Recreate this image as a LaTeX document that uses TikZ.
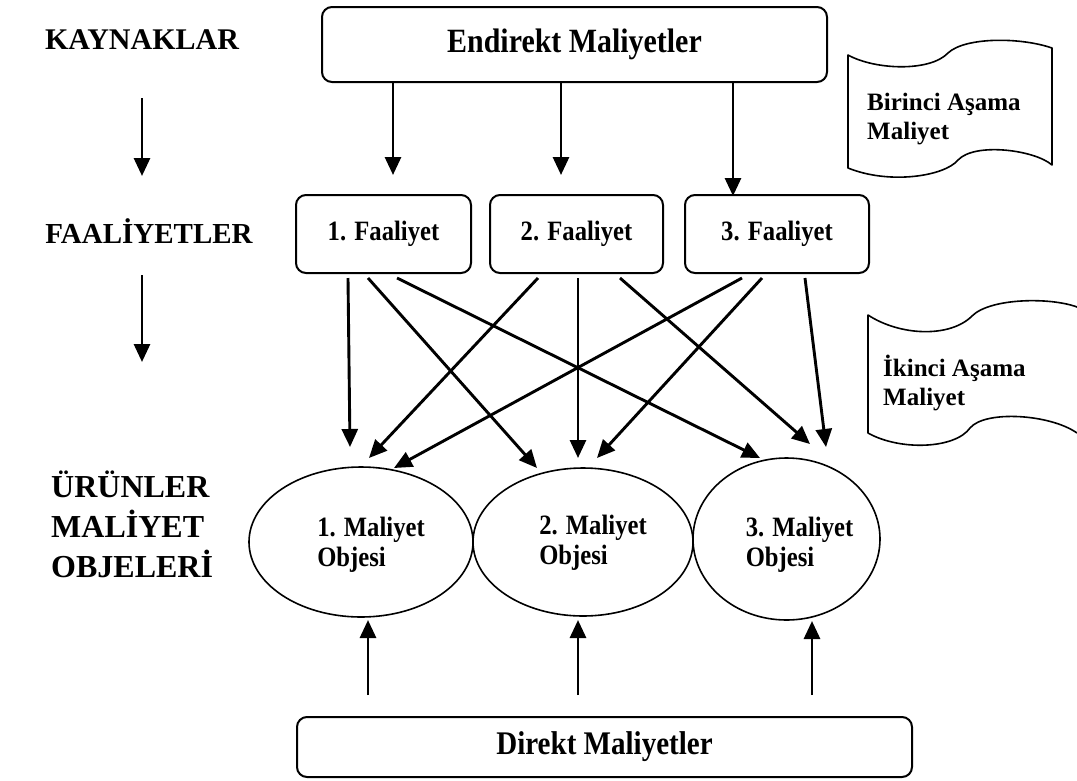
\documentclass[tikz,border=0pt]{standalone}
\usepackage{fontspec}
\setmainfont{Liberation Serif}
\newfontfamily\cond{Liberation Serif}[FakeStretch=0.88]
\usetikzlibrary{shapes.geometric,arrows.meta,calc}
\begin{document}
\begin{tikzpicture}[x=1pt,y=-1pt,
  box/.style={draw, rounded corners=10pt, line width=2pt, inner sep=0pt},
  oval/.style={draw, ellipse, line width=1.6pt, inner sep=0pt},
  arr/.style={line width=2.9pt, -{Triangle[length=18pt,width=16pt]}},
  bigtxt/.style={font=\cond\bfseries\fontsize{34}{40}\selectfont},
  midtxt/.style={font=\cond\bfseries\fontsize{28}{30}\selectfont},
  lefttxt/.style={font=\bfseries\fontsize{30}{40}\selectfont, inner sep=0pt},
  flagtxt/.style={font=\bfseries\fontsize{25}{29}\selectfont, align=left, inner sep=0pt},
  flag/.style={line width=1.6pt, line join=round}
]
\useasboundingbox (0,0) rectangle (1077,780);
\fill[white] (0,0) rectangle (1077,780);

% left labels
\node[lefttxt] (kay) at (142,40) {KAYNAKLAR};
\node[lefttxt, font=\bfseries\fontsize{29}{40}\selectfont] (faa) at (149,231) {FAALİYETLER};
\node[lefttxt, font=\bfseries\fontsize{32}{40}\selectfont, align=left, anchor=west] (urn) at (51,524) {ÜRÜNLER\\MALİYET\\OBJELERİ};
\coordinate (k1) at (142,98);
\coordinate (k2) at (142,176);
\coordinate (k3) at (142,275);
\coordinate (k4) at (142,362);
\draw[arr] (k1) -- (k2);
\draw[arr] (k3) -- (k4);

% top box
\node[box, bigtxt, minimum width=505pt, minimum height=75pt] (top) at (574.5,44.5) {Endirekt Maliyetler};

% activity boxes
\node[box, midtxt, minimum width=175pt, minimum height=78pt] (f1) at (383.5,234) {1. Faaliyet};
\node[box, midtxt, minimum width=173pt, minimum height=78pt] (f2) at (576.5,234) {2. Faaliyet};
\node[box, midtxt, minimum width=184pt, minimum height=78pt] (f3) at (777,234) {3. Faaliyet};

\coordinate (a1) at (393,175);
\coordinate (a2) at (561,175);
\coordinate (a3) at (733,196);
\draw[arr] (top.south -| a1) -- (a1);
\draw[arr] (top.south -| a2) -- (a2);
\draw[arr] (top.south -| a3) -- (a3);

% ellipses
\node[oval, minimum width=224pt, minimum height=150pt] (e1) at (361,542) {};
\node[oval, minimum width=220pt, minimum height=148pt] (e2) at (583,542) {};
\node[oval, minimum width=187pt, minimum height=162pt] (e3) at (786.5,539) {};
\node[midtxt, align=left, inner sep=0pt] (e1t) at ($(e1)+(10,3)$) {1. Maliyet\\Objesi};
\node[midtxt, align=left, inner sep=0pt] (e2t) at ($(e2)+(10,1)$) {2. Maliyet\\Objesi};
\node[midtxt, align=left, inner sep=0pt] (e3t) at ($(e3)+(13,6)$) {3. Maliyet\\Objesi};

% cross arrows
\coordinate (s1a) at (348,278); \coordinate (t1a) at (350,447);
\coordinate (s1b) at (368,278); \coordinate (t1b) at (537,468);
\coordinate (s1c) at (397,278); \coordinate (t1c) at (760,458);
\coordinate (s2a) at (538,278); \coordinate (t2a) at (369,458);
\coordinate (s2b) at (578,278); \coordinate (t2b) at (578,458);
\coordinate (s2c) at (620,278); \coordinate (t2c) at (810,444);
\coordinate (s3a) at (742,278); \coordinate (t3a) at (394,468);
\coordinate (s3b) at (762,278); \coordinate (t3b) at (597,458);
\coordinate (s3c) at (805,278); \coordinate (t3c) at (826,447);
\foreach \p in {1a,1b,1c,2a,2b,2c,3a,3b,3c}{\draw[arr] (s\p) -- (t\p);}

% bottom box
\node[box, bigtxt, font=\cond\bfseries\fontsize{33}{40}\selectfont, minimum width=615pt, minimum height=60pt] (bot) at (604.5,747) {Direkt Maliyetler};
\coordinate (u1) at (368,620);
\coordinate (u2) at (578,620);
\coordinate (u3) at (812,621);
\draw[arr] (u1 |- 0,695) -- (u1);
\draw[arr] (u2 |- 0,695) -- (u2);
\draw[arr] (u3 |- 0,695) -- (u3);

% flags
\draw[flag] (848,55) .. controls (875,70) and (930,72) .. (948,53)
  .. controls (965,37) and (1020,37) .. (1052,48) -- (1052,165)
  .. controls (1035,150) and (975,142) .. (958,160)
  .. controls (945,176) and (890,185) .. (848,168) -- cycle;
\node[flagtxt, anchor=west] (fl1) at (867,119) {Birinci Aşama\\Maliyet};

\draw[flag] (1077,433) .. controls (1050,414) and (985,410) .. (970,428)
  .. controls (955,449) and (900,451) .. (868,433) -- (868,315)
  .. controls (900,336) and (950,338) .. (972,316)
  .. controls (990,298) and (1050,297) .. (1077,307);
\node[flagtxt, anchor=west] (fl2) at (883,383) {İkinci Aşama\\Maliyet};
\end{tikzpicture}
\end{document}
